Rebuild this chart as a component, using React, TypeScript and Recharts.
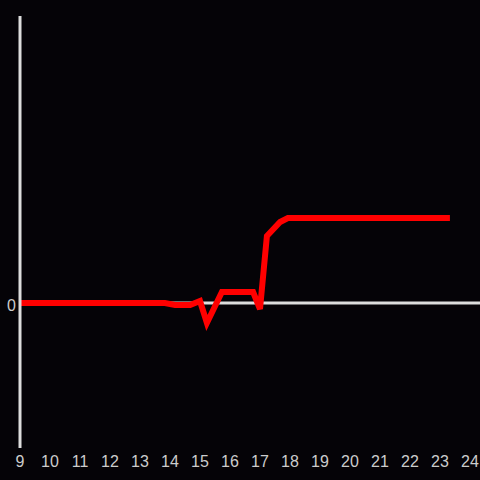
import React from 'react';
import { LineChart, Line, XAxis, YAxis, ReferenceLine } from 'recharts';

const hours = [9, 13.83, 14.17, 14.67, 15.0, 15.23, 15.73, 16.77, 17.0, 17.23, 17.67, 17.93, 23.33];
const values = [0, 0, -2, -2, 2, -20, 11, 11, -6, 67, 81, 85, 85];
const hourTicks = [9, 10, 11, 12, 13, 14, 15, 16, 17, 18, 19, 20, 21, 22, 23, 24];

const data = hours.map((h, i) => ({ hour: h, value: values[i] }));

const tickStyle = { fontSize: 16, fill: '#cccccc', fontFamily: 'Liberation Sans, Arial, sans-serif' };

const App = () => {
  return (
    <div style={{ position: 'absolute', top: 0, left: 0, width: 480, height: 480, background: '#050307' }}>
      <LineChart width={480} height={480} data={data} margin={{ top: 16, right: 0, bottom: 0, left: 0 }}>
        <XAxis
          dataKey="hour"
          type="number"
          domain={[9, 24.333]}
          ticks={hourTicks}
          height={32}
          axisLine={false}
          tickLine={false}
          fontSize={16}
          tick={tickStyle}
        />
        <YAxis
          type="number"
          domain={[-145, 287]}
          ticks={[0]}
          width={20}
          tickLine={false}
          tickSize={4}
          tickMargin={0}
          fontSize={16}
          axisLine={{ stroke: '#dddddd', strokeWidth: 3 }}
          tick={{ ...tickStyle, dy: 2 }}
        />
        <ReferenceLine y={0} stroke="#dddddd" strokeWidth={3} />
        <Line
          type="linear"
          dataKey="value"
          stroke="#ff0000"
          strokeWidth={6}
          dot={false}
          isAnimationActive={false}
        />
      </LineChart>
    </div>
  );
};

export default App;
